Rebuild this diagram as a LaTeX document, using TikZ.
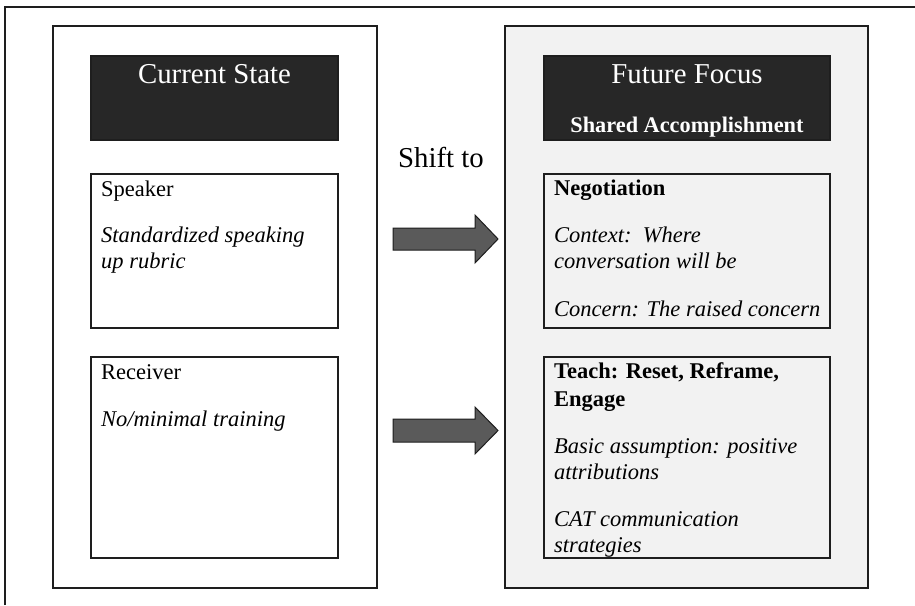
\documentclass[tikz,border=0pt]{standalone}
\usepackage{fontspec}
\setmainfont{Liberation Serif}
\definecolor{darkbox}{HTML}{272727}
\definecolor{panelgray}{HTML}{F2F2F2}
\definecolor{arrowgray}{HTML}{5A5A5A}
\definecolor{linecol}{HTML}{1E1E1E}
\begin{document}
\begin{tikzpicture}[x=1pt,y=-1pt,
  panel/.style={draw=linecol,line width=1.3pt},
  titlebox/.style={draw=linecol,line width=1.1pt,fill=darkbox},
  itembox/.style={draw=linecol,line width=1.3pt},
  bigtxt/.style={inner sep=0pt,anchor=base,font=\fontsize{28.8}{32}\selectfont},
  bodytxt/.style={inner sep=0pt,anchor=base west,align=left,font=\fontsize{22.5}{26}\selectfont},
  blockarrow/.style={draw=linecol,line width=1pt,fill=arrowgray}]
\useasboundingbox (0,0) rectangle (915,605);
\fill[white] (0,0) rectangle (915,605);
% outer frame (partially visible)
\draw[linecol,line width=1.4pt] (5,605) -- (5,7) -- (915,7);
% panels
\node[panel,fill=white,minimum width=324pt,minimum height=562pt,inner sep=0pt] (left) at (215,307) {};
\node[panel,fill=panelgray,minimum width=363pt,minimum height=562pt,inner sep=0pt] (right) at (686.5,307) {};
% title boxes
\node[titlebox,minimum width=247pt,minimum height=84pt,inner sep=0pt] (cs) at (214.5,98) {};
\node[titlebox,minimum width=286pt,minimum height=84pt,inner sep=0pt] (ff) at (687,98) {};
\node[bigtxt,text=white] (cstxt) at (214.5,83) {Current State};
\node[bigtxt,text=white] (fftxt) at (687,83) {Future Focus};
\node[inner sep=0pt,anchor=base,text=white,font=\fontsize{22.3}{26}\selectfont\bfseries] (sa) at (687,132) {Shared Accomplishment};
% item boxes
\node[itembox,fill=white,minimum width=247pt,minimum height=154pt,inner sep=0pt] (spk) at (214.5,251) {};
\node[itembox,fill=white,minimum width=247pt,minimum height=201pt,inner sep=0pt] (rcv) at (214.5,457.5) {};
\node[itembox,fill=panelgray,minimum width=286pt,minimum height=154pt,inner sep=0pt] (neg) at (687,251) {};
\node[itembox,fill=panelgray,minimum width=286pt,minimum height=201pt,inner sep=0pt] (tch) at (687,457.5) {};
% texts (multi-line nodes are placed by the baseline of their last line)
\node[bodytxt] (t1) at (101,196) {Speaker};
\node[bodytxt] (t2) at (101,268) {\itshape Standardized speaking\\\itshape up rubric};
\node[bodytxt] (t3) at (101,379) {Receiver};
\node[bodytxt] (t4) at (101,426) {\itshape No/minimal training};
\node[bodytxt,font=\fontsize{22.5}{26}\selectfont\bfseries] (t5) at (554,195) {Negotiation};
\node[bodytxt] (t6) at (554,268) {\itshape Context:\ \ Where\\\itshape conversation will be};
\node[bodytxt] (t7) at (554,316) {\itshape Concern: The raised concern};
\node[bodytxt,font=\fontsize{22.5}{28}\selectfont\bfseries] (t8) at (554,406) {Teach: Reset, Reframe,\\Engage};
\node[bodytxt] (t9) at (554,479) {\itshape Basic assumption: positive\\\itshape attributions};
\node[bodytxt] (t10) at (554,552) {\itshape CAT communication\\\itshape strategies};
% shift label
\node[bigtxt,anchor=base west] (shift) at (398,167) {Shift to};
% block arrows
\draw[blockarrow] (393,228) -- (475,228) -- (475,215) -- (498,239) -- (475,263) -- (475,250) -- (393,250) -- cycle;
\draw[blockarrow] (393,419) -- (475,419) -- (475,407) -- (498,430.5) -- (475,454) -- (475,442) -- (393,442) -- cycle;
\end{tikzpicture}
\end{document}
